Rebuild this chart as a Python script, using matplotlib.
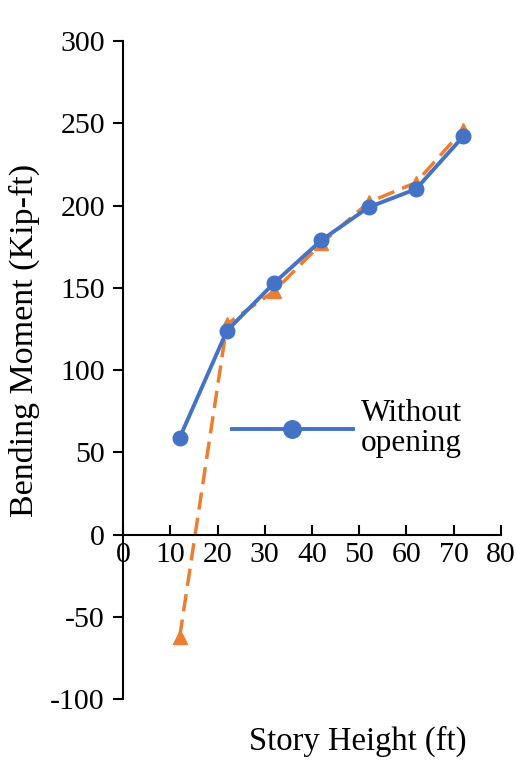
import matplotlib
matplotlib.use("Agg")
import matplotlib.pyplot as plt

plt.rcParams['font.family'] = ['Liberation Serif', 'DejaVu Serif']
plt.rcParams['axes.unicode_minus'] = False

# story height (ft)
height = [12, 22, 32, 42, 52, 62, 72]
# bending moment (kip-ft)
without_opening = [59, 124, 153, 179, 199, 210, 242]
with_opening = [-62, 128, 148, 177, 202, 214, 246]

blue = "#4472C4"
orange = "#ED7D31"

fig = plt.figure(figsize=(5.17, 7.6), dpi=100)
ax = fig.add_axes([0.238, 0.080, 0.731, 0.866])

ax.plot(height, with_opening, color=orange, linestyle=(0, (5, 2.4)), linewidth=2.5,
        marker="^", markersize=10, zorder=2)
ax.plot(height, without_opening, color=blue, linewidth=2.8, marker="o",
        markersize=10.5, label="Without\nopening", zorder=3)

ax.set_xlim(0, 80)
ax.set_ylim(-100, 300)
ax.set_xticks(range(0, 81, 10))
ax.set_yticks(range(-100, 301, 50))

ax.spines["left"].set_position(("data", 0))
ax.spines["bottom"].set_position(("data", 0))
ax.spines["right"].set_visible(False)
ax.spines["top"].set_visible(False)
for s in ("left", "bottom"):
    ax.spines[s].set_linewidth(1.5)

ax.tick_params(axis="y", direction="out", length=7, width=1.5, labelsize=21.5, pad=6)
ax.tick_params(axis="x", direction="in", length=7, width=1.5, labelsize=21.5, pad=5)
ax.xaxis.set_ticks_position("bottom")
ax.yaxis.set_ticks_position("left")

leg = ax.legend(loc="center left", bbox_to_anchor=(0.287, 0.411), frameon=False,
                fontsize=22.5, handlelength=3.9, handletextpad=0.23,
                borderpad=0, borderaxespad=0, markerscale=1.2)
for t in leg.get_texts():
    t.set_linespacing(1.05)

fig.text(0.048, 0.552, "Bending Moment (Kip-ft)", rotation=90, fontsize=24.5,
         ha="center", va="center")
fig.text(0.692, 0.024, "Story Height (ft)", fontsize=23.5, ha="center", va="center")

plt.savefig("out.png", dpi=100)
plt.close()
